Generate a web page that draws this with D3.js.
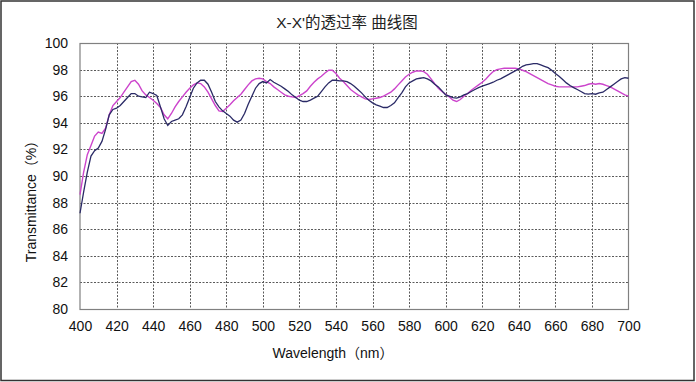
<!DOCTYPE html>
<html><head><meta charset="utf-8">
<script src="https://cdn.jsdelivr.net/npm/d3@7"></script>
<style>
html,body{margin:0;padding:0;background:#fff;}
svg{display:block;}
text{font-family:"Liberation Sans",Arial,"Noto Sans CJK SC",sans-serif;}
</style></head>
<body><svg id="c" width="696" height="382"></svg>
<script>
const title = "X-X'的透过率 曲线图";
const xLabel = "Wavelength（nm）";
const yLabel = "Transmittance（%）";
const xTicks = [400,420,440,460,480,500,520,540,560,580,600,620,640,660,680,700];
const yTicks = [80,82,84,86,88,90,92,94,96,98,100];
const wavelengths = d3.range(400, 701, 2);
const seriesNavy = [
87.2,88.8,90.3,91.5,91.9,92.1,92.6,93.5,94.6,95.0,
95.1,95.3,95.6,95.9,96.2,96.2,96.0,95.95,95.9,96.3,
96.2,96.05,95.2,94.3,93.8,94.1,94.2,94.3,94.6,95.2,
95.9,96.6,97.0,97.2,97.2,96.9,96.3,95.6,95.2,94.9,
94.7,94.5,94.2,94.05,94.2,94.7,95.4,96.0,96.6,96.95,
97.1,97.0,97.25,97.05,96.9,96.75,96.55,96.35,96.1,95.9,
95.7,95.6,95.6,95.7,95.85,96.0,96.35,96.7,97.0,97.2,
97.2,97.15,97.15,97.1,96.95,96.75,96.5,96.25,95.95,95.7,
95.5,95.35,95.25,95.15,95.15,95.3,95.5,95.9,96.25,96.7,
97.0,97.15,97.3,97.35,97.4,97.3,97.15,96.9,96.7,96.4,
96.1,96.0,95.9,95.85,95.95,96.1,96.2,96.35,96.5,96.65,
96.75,96.85,96.95,97.05,97.2,97.3,97.45,97.6,97.75,97.9,
98.05,98.25,98.35,98.4,98.45,98.45,98.35,98.25,98.15,97.95,
97.7,97.5,97.25,97.0,96.8,96.65,96.5,96.35,96.2,96.15,
96.2,96.15,96.25,96.3,96.5,96.7,96.9,97.1,97.3,97.4,97.35
];
const seriesPink = [
88.6,90.3,91.6,92.3,93.0,93.3,93.2,93.6,94.6,95.3,
95.6,95.9,96.3,96.7,97.1,97.2,96.9,96.4,96.1,95.9,
95.7,95.45,95.15,94.6,94.3,94.7,95.2,95.6,95.95,96.3,
96.6,96.85,97.0,96.95,96.7,96.3,95.8,95.3,94.9,94.85,
95.1,95.35,95.65,95.9,96.15,96.5,96.85,97.15,97.3,97.35,
97.3,97.1,96.95,96.7,96.5,96.3,96.1,96.0,95.95,95.9,
96.05,96.2,96.4,96.75,97.05,97.3,97.5,97.75,97.95,97.95,
97.7,97.35,97.1,96.8,96.5,96.3,96.1,95.95,95.8,95.75,
95.8,95.85,95.9,96.0,96.15,96.3,96.55,96.85,97.15,97.45,
97.65,97.8,97.9,97.9,97.85,97.65,97.3,96.95,96.6,96.35,
96.15,95.95,95.7,95.6,95.75,96.0,96.2,96.45,96.65,96.85,
97.05,97.3,97.6,97.85,98.0,98.05,98.1,98.1,98.1,98.1,
98.05,97.95,97.85,97.7,97.55,97.4,97.25,97.1,96.95,96.85,
96.75,96.7,96.7,96.7,96.7,96.7,96.7,96.75,96.8,96.9,
96.95,96.9,96.95,96.9,96.8,96.7,96.55,96.4,96.25,96.1,96.0
];

const svg = d3.select("#c");
const L = 80, R = 628.5, T = 43, B = 309;
const x = d3.scaleLinear().domain([400,700]).range([L,R]);
const y = d3.scaleLinear().domain([80,100]).range([B,T]);

// outer frame
svg.append("rect").attr("x",1).attr("y",1).attr("width",693).attr("height",379.5)
  .attr("fill","#fff").attr("stroke","#333").attr("stroke-width",1.5);

// grid
const g = svg.append("g");
g.selectAll("line.h").data(yTicks.filter(d=>d>80 && d<100)).enter().append("line")
  .attr("x1",L).attr("x2",R).attr("y1",d=>Math.round(y(d))+0.5).attr("y2",d=>Math.round(y(d))+0.5)
  .attr("stroke","#5a5a5a").attr("stroke-width",1).attr("stroke-dasharray","2,1.5");
g.selectAll("line.v").data(xTicks.filter(d=>d>400 && d<700)).enter().append("line")
  .attr("y1",T).attr("y2",B).attr("x1",d=>Math.round(x(d))+0.5).attr("x2",d=>Math.round(x(d))+0.5)
  .attr("stroke","#5a5a5a").attr("stroke-width",1).attr("stroke-dasharray","2,1.5");

// plot border
svg.append("rect").attr("x",L).attr("y",T+0.5).attr("width",R-L).attr("height",B-T)
  .attr("fill","none").attr("stroke","#808080").attr("stroke-width",1.2);

// axes
const xAxis = svg.append("g").attr("transform",`translate(0,${B})`)
  .call(d3.axisBottom(x).tickValues(xTicks).tickSize(0).tickPadding(12).tickFormat(d3.format("d")));
const yAxis = svg.append("g").attr("transform",`translate(${L},0)`)
  .call(d3.axisLeft(y).tickValues(yTicks).tickSize(0).tickPadding(12).tickFormat(d3.format("d")));
[xAxis,yAxis].forEach(a=>{
  a.select(".domain").remove();
  a.selectAll("text").attr("font-size",14).attr("fill","#111")
    .attr("font-family",'"Liberation Sans",Arial,sans-serif');
});

// lines
const line = d3.line().x((d,i)=>x(wavelengths[i])).y(d=>y(d));
svg.append("path").datum(seriesPink).attr("d",line).attr("fill","none")
  .attr("stroke","#CC44CC").attr("stroke-width",1.4);
svg.append("path").datum(seriesNavy).attr("d",line).attr("fill","none")
  .attr("stroke","#2A2A66").attr("stroke-width",1.3);

// titles
svg.append("text").attr("x",347).attr("y",28).attr("text-anchor","middle")
  .attr("font-size",15.5).attr("fill","#222").text(title);
svg.append("text").attr("x",333).attr("y",358).attr("text-anchor","middle")
  .attr("font-size",14).attr("fill","#111").text(xLabel);
svg.append("text").attr("transform","translate(36,198) rotate(-90)").attr("text-anchor","middle")
  .attr("font-size",14).attr("fill","#111").text(yLabel);
</script></body></html>
